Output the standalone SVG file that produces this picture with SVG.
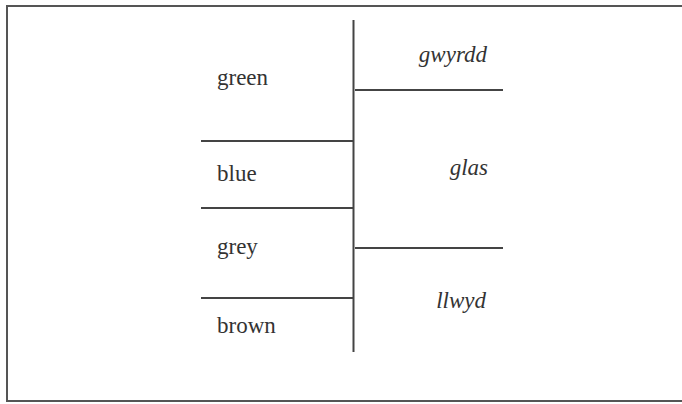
<svg xmlns="http://www.w3.org/2000/svg" width="682" height="404" viewBox="0 0 682 404">
  <style>
    .frame { fill: none; stroke: #555; stroke-width: 2; }
    .rule { stroke: #444; stroke-width: 2; fill: none; }
    .en { font-family: "Liberation Serif", "Times New Roman", serif; font-size: 23px; fill: #333; }
    .cy { font-family: "Liberation Serif", "Times New Roman", serif; font-size: 23px; font-style: italic; fill: #333; text-anchor: end; }
  </style>
  <rect width="682" height="404" fill="#fff"/>
  <!-- outer frame: top, left and bottom edges -->
  <path class="frame" d="M682 6 H7 V401 H682"/>

  <!-- dividing lines between the two colour vocabularies -->
  <g id="connectors">
    <line class="rule" x1="353.5" y1="20" x2="353.5" y2="352"/>
    <line class="rule" x1="355" y1="90" x2="503" y2="90"/>
    <line class="rule" x1="355" y1="248" x2="503" y2="248"/>
    <line class="rule" x1="201" y1="141" x2="353" y2="141"/>
    <line class="rule" x1="201" y1="208" x2="353" y2="208"/>
    <line class="rule" x1="201" y1="298" x2="353" y2="298"/>
  </g>

  <!-- English terms -->
  <g id="green"><text class="en" x="217" y="85">green</text></g>
  <g id="blue"><text class="en" x="217" y="181">blue</text></g>
  <g id="grey"><text class="en" x="217" y="254">grey</text></g>
  <g id="brown"><text class="en" x="217" y="333">brown</text></g>

  <!-- Welsh terms -->
  <g id="gwyrdd"><text class="cy" x="487" y="62">gwyrdd</text></g>
  <g id="glas"><text class="cy" x="488" y="175">glas</text></g>
  <g id="llwyd"><text class="cy" x="486" y="308">llwyd</text></g>
</svg>
